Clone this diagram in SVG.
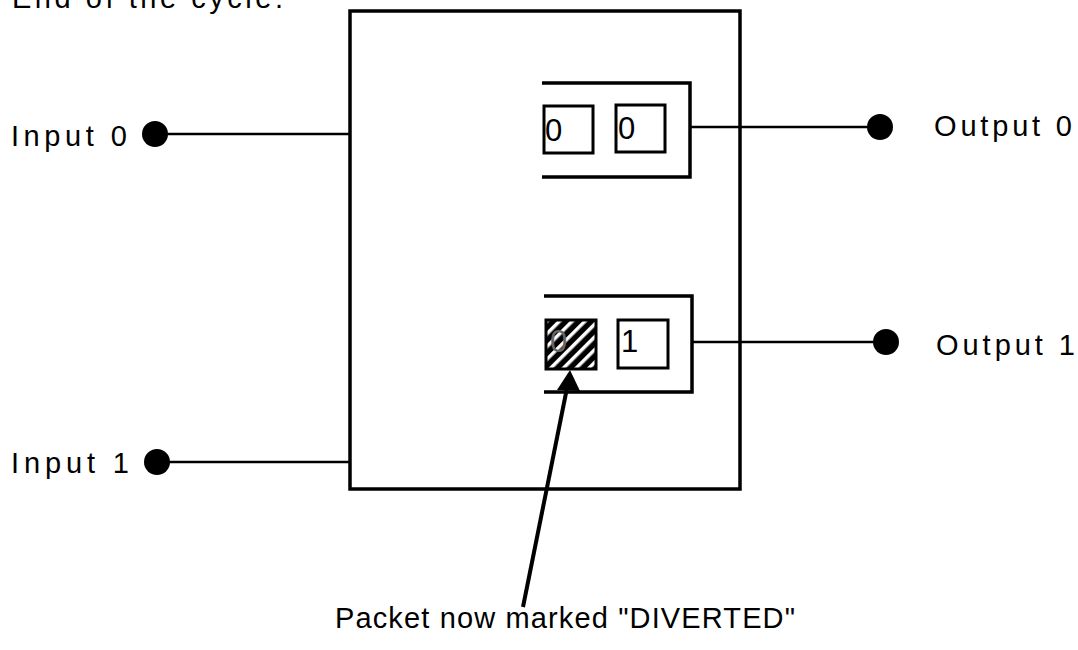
<svg xmlns="http://www.w3.org/2000/svg" width="1078" height="650" viewBox="0 0 1078 650">
<style>
.t{font-family:"Liberation Sans",Arial,sans-serif;font-size:29px;fill:#000}
.d{font-family:"Liberation Sans",Arial,sans-serif;font-size:31px;fill:#000}
.frame{fill:none;stroke:#000;stroke-width:3.5}
.buf{fill:none;stroke:#000;stroke-width:3.5}
.cell{fill:#fff;stroke:#000;stroke-width:3}
.wire{stroke:#000;stroke-width:2.5;fill:none}
.dot{fill:#000}
</style>
<defs>
<pattern id="hatch" patternUnits="userSpaceOnUse" width="9" height="9" patternTransform="rotate(45)">
<rect width="9" height="9" fill="#000"/>
<rect x="0" y="0" width="3.5" height="9" fill="#fff"/>
</pattern>
</defs>
<rect width="1078" height="650" fill="#fff"/>
<text class="t" x="12" y="8" textLength="271" lengthAdjust="spacing">End of the cycle.</text>
<g id="switch">
<rect class="frame" x="350" y="11" width="390" height="478"/>
</g>
<g id="buffer0">
<polyline class="buf" points="542,83 690,83 690,177 542,177"/>
<rect class="cell" x="544" y="106" width="49" height="47"/>
<text class="d" x="545" y="141">0</text>
<rect class="cell" x="616" y="105" width="49" height="47"/>
<text class="d" x="618" y="139">0</text>
</g>
<g id="buffer1">
<polyline class="buf" points="544,296 692,296 692,392 544,392"/>
<rect x="546" y="320" width="50" height="49" fill="url(#hatch)" stroke="#000" stroke-width="3"/>
<text class="d" x="550" y="352" style="fill:#666">0</text>
<rect class="cell" x="618" y="320" width="50" height="48"/>
<text class="d" x="621" y="352">1</text>
</g>
<g id="input0">
<circle class="dot" cx="155" cy="134" r="13"/>
<text class="t" x="11" y="146" textLength="116" lengthAdjust="spacing">Input  0</text>
</g>
<g id="input1">
<circle class="dot" cx="157" cy="462" r="13"/>
<text class="t" x="11" y="473" textLength="118" lengthAdjust="spacing">Input  1</text>
</g>
<g id="output0">
<circle class="dot" cx="880" cy="127" r="13"/>
<text class="t" x="934" y="136" textLength="138" lengthAdjust="spacing">Output  0</text>
</g>
<g id="output1">
<circle class="dot" cx="886" cy="342" r="13"/>
<text class="t" x="936" y="355" textLength="139" lengthAdjust="spacing">Output  1</text>
</g>
<g id="label">
<text class="t" x="335" y="628" textLength="460" lengthAdjust="spacing">Packet now marked "DIVERTED"</text>
</g>
<g id="connectors">
<line class="wire" x1="155" y1="134" x2="350" y2="134"/>
<line class="wire" x1="157" y1="462" x2="350" y2="462"/>
<line class="wire" x1="690" y1="127" x2="880" y2="127"/>
<line class="wire" x1="692" y1="342" x2="886" y2="342"/>
<line x1="523" y1="607" x2="567" y2="388" stroke="#000" stroke-width="4"/>
<polygon points="570,370 580,391 557,390" fill="#000"/>
</g>
</svg>
